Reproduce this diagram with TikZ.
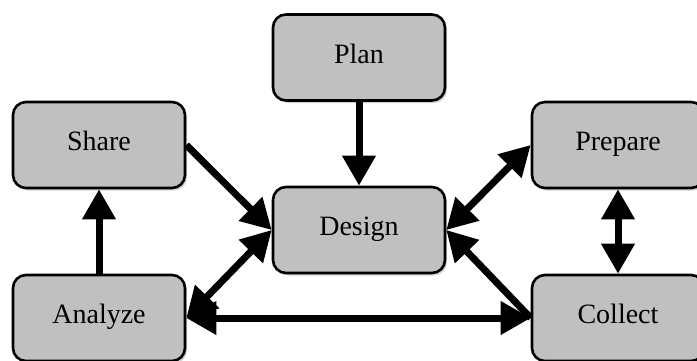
\documentclass[tikz,border=0pt]{standalone}
\usepackage{fontspec}
\setmainfont{Liberation Serif}
\usetikzlibrary{positioning,arrows.meta,shadows}

\begin{document}
\begin{tikzpicture}[x=1pt,y=1pt,
stage/.style={draw,line width=2.6pt,rounded corners=13pt,fill={rgb,255:red,192;green,192;blue,192},
minimum width=172pt,minimum height=86pt,inner sep=0pt,text=black,font=\fontsize{28}{30}\selectfont,
text height=18pt,text depth=7pt,
drop shadow={shadow xshift=2pt,shadow yshift=-2.5pt,opacity=0.35}},
flow/.style={line width=7pt,-{Triangle[length=30pt,width=32pt]}},
both/.style={line width=7pt,{Triangle[length=30pt,width=32pt]}-{Triangle[length=30pt,width=32pt]}}]
\useasboundingbox (0,0) rectangle (697,360);
\node[stage] (design) at (359,130) {Design};
\node[stage] (plan) at (359,302.5) {Plan};
\node[stage] (share) at (99,215) {Share};
\node[stage] (prepare) at (618,215) {Prepare};
\node[stage] (analyze) at (99,42) {Analyze};
\node[stage] (collect) at (618,42) {Collect};
\draw[flow] (plan) -- (design);
\draw[flow] (share.east) -- (design.west);
\draw[flow] (analyze) -- (share);
\draw[both] (analyze.east) -- (design.west);
\draw[both] (analyze.east) -- (collect.west);
\draw[flow] (collect.west) -- (design.east);
\draw[both] (prepare.west) -- (design.east);
\draw[both] (prepare) -- (collect);
\end{tikzpicture}
\end{document}
